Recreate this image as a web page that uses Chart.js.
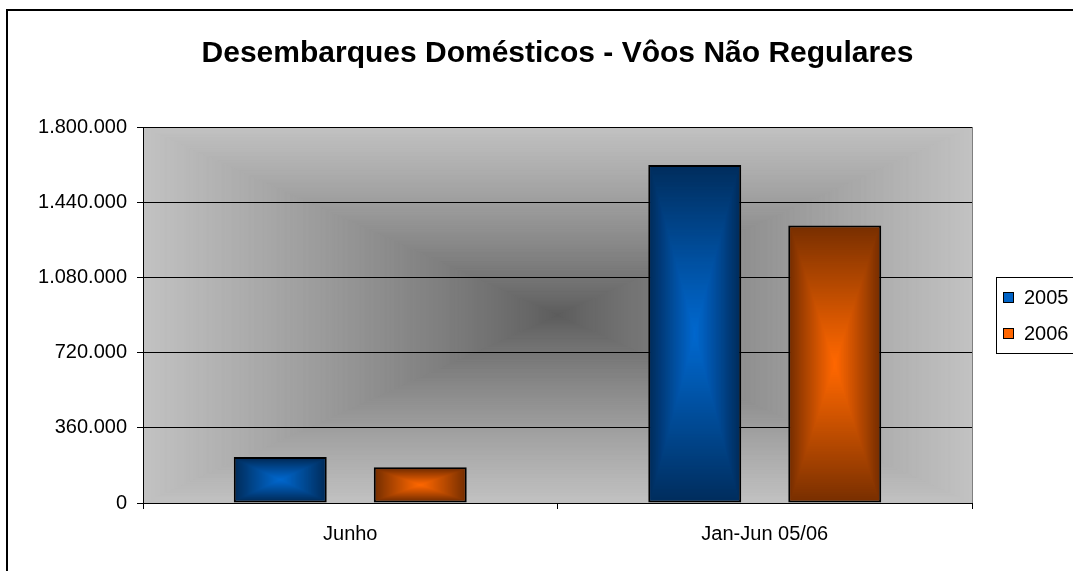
<!DOCTYPE html>
<html><head><meta charset="utf-8">
<script src="https://cdn.jsdelivr.net/npm/chart.js@4"></script>
<style>html,body{margin:0;padding:0;background:#fff}#wrap{width:1073px;height:571px;position:relative}</style>
</head><body><div id="wrap"><canvas id="c"></canvas></div>
<script>
// ---- data ----
const categories = ['Junho', 'Jan-Jun 05/06'];
const seriesNames = ['2005', '2006'];
const values2005 = [220000, 1618000];
const values2006 = [171000, 1328000];
const yTickValues = [0, 360000, 720000, 1080000, 1440000, 1800000];
const yTickLabels = ['0', '360.000', '720.000', '1.080.000', '1.440.000', '1.800.000'];
const chartTitle = 'Desembarques Domésticos - Vôos Não Regulares';

// ---- styles ----
const FONT = "'Liberation Sans', Arial, sans-serif";
const styles = [
  {edge: [0, 46, 94], center: [0, 104, 206], legend: '#0063c6'},
  {edge: [122, 48, 0], center: [255, 104, 0], legend: '#ff6600'}
];
const bgDark = [92, 92, 92], bgLight = [194, 194, 194];

function mix(a, b, t) {
  return 'rgb(' + a.map((v, i) => Math.round(v + (b[i] - v) * t)).join(',') + ')';
}
function concentric(ctx, l, t, r, b, inner, outer, gamma) {
  const cx = (l + r) / 2, cy = (t + b) / 2, hw = (r - l) / 2, hh = (b - t) / 2;
  const N = Math.max(2, Math.ceil(Math.max(hw, hh)));
  for (let i = 0; i <= N; i++) {
    const s = 1 - i / N;
    ctx.fillStyle = mix(inner, outer, Math.pow(s, gamma));
    ctx.fillRect(cx - hw * s, cy - hh * s, 2 * hw * s, 2 * hh * s);
  }
}

const decoPlugin = {
  id: 'deco',
  beforeDraw(chart) {
    const {ctx, chartArea: a} = chart;
    ctx.save();
    ctx.fillStyle = '#fff';
    ctx.fillRect(0, 0, chart.width, chart.height);
    concentric(ctx, a.left, a.top, a.right, a.bottom, bgDark, bgLight, 0.85);
    ctx.restore();
  },
  afterDatasetsDraw(chart) {
    const ctx = chart.ctx;
    ctx.save();
    chart.data.datasets.forEach((ds, di) => {
      const meta = chart.getDatasetMeta(di);
      const st = styles[di];
      meta.data.forEach(bar => {
        const p = bar.getProps(['x', 'y', 'base', 'width'], true);
        const bw = ds.borderWidth;
        const l = p.x - p.width / 2 + bw, r = p.x + p.width / 2 - bw;
        const t = Math.min(p.y, p.base) + bw, b = Math.max(p.y, p.base) - bw;
        ctx.save();
        ctx.beginPath(); ctx.rect(l, t, r - l, b - t); ctx.clip();
        concentric(ctx, l, t, r, b, st.center, st.edge, 1.1);
        ctx.restore();
      });
    });
    ctx.restore();
  },
  afterDraw(chart) {
    const {ctx, chartArea: a} = chart;
    ctx.save();
    // plot right border
    ctx.strokeStyle = '#7f7f7f'; ctx.lineWidth = 1;
    ctx.beginPath(); ctx.moveTo(Math.round(a.right) + 0.5, a.top); ctx.lineTo(Math.round(a.right) + 0.5, a.bottom); ctx.stroke();
    // outer frame
    ctx.fillStyle = '#000';
    ctx.fillRect(6, 9, 2, chart.height);
    ctx.fillRect(6, 9, chart.width, 2);
    // legend
    const midY = (a.top + a.bottom) / 2;
    const lx = a.right + 24;
    const gap = 36;
    const n = chart.data.datasets.length;
    const boxTop = Math.round(midY - gap * n / 2 - 2);
    const boxH = gap * n + 4;
    ctx.strokeStyle = '#000'; ctx.lineWidth = 1;
    ctx.strokeRect(lx + 0.5, boxTop + 0.5, 300, boxH);
    ctx.font = '20px ' + FONT;
    ctx.textBaseline = 'middle';
    chart.data.datasets.forEach((ds, i) => {
      const cy = midY - gap * (n - 1) / 2 + gap * i;
      ctx.fillStyle = styles[i].legend;
      ctx.fillRect(lx + 7, Math.round(cy - 5.5), 11, 11);
      ctx.strokeStyle = '#000';
      ctx.strokeRect(lx + 7.5, Math.round(cy - 5.5) + 0.5, 10, 10);
      ctx.fillStyle = '#000';
      ctx.fillText(ds.label, lx + 28, cy + 1);
    });
    ctx.restore();
  }
};

const datasets = [values2005, values2006].map((vals, i) => ({
  label: seriesNames[i],
  data: vals,
  backgroundColor: mix(styles[i].edge, styles[i].edge, 0),
  borderColor: '#000',
  borderWidth: 2,
  borderSkipped: false,
  categoryPercentage: 0.6755,
  barPercentage: 0.664
}));

new Chart(document.getElementById('c'), {
  type: 'bar',
  data: {labels: categories, datasets},
  plugins: [decoPlugin],
  options: {
    responsive: true,
    maintainAspectRatio: false,
    animation: false,
    layout: {padding: {left: 0, right: 101, top: 0, bottom: 0}},
    plugins: {
      legend: {display: false},
      tooltip: {enabled: false},
      title: {
        display: true,
        text: chartTitle,
        fullSize: false,
        color: '#000',
        font: {family: FONT, size: 30, weight: 'bold', lineHeight: 1.2},
        padding: {top: 36, bottom: 55}
      }
    },
    scales: {
      x: {
        grid: {display: true, offset: true, drawOnChartArea: false, color: '#000', tickLength: 6, lineWidth: 1},
        border: {display: true, color: '#000', width: 1},
        ticks: {color: '#000', font: {family: FONT, size: 20}, padding: 13, maxRotation: 0},
        afterFit(s) { s.height = 68; }
      },
      y: {
        min: 0,
        max: 1800000,
        afterBuildTicks(s) { s.ticks = yTickValues.map(v => ({value: v})); },
        grid: {color: '#000', tickLength: 6, lineWidth: 1},
        border: {display: true, color: '#000', width: 1},
        ticks: {
          color: '#000', font: {family: FONT, size: 20}, padding: 10,
          callback: (v, i) => yTickLabels[i]
        },
        afterFit(s) { s.width = 143; }
      }
    }
  }
});
</script>
</body></html>
